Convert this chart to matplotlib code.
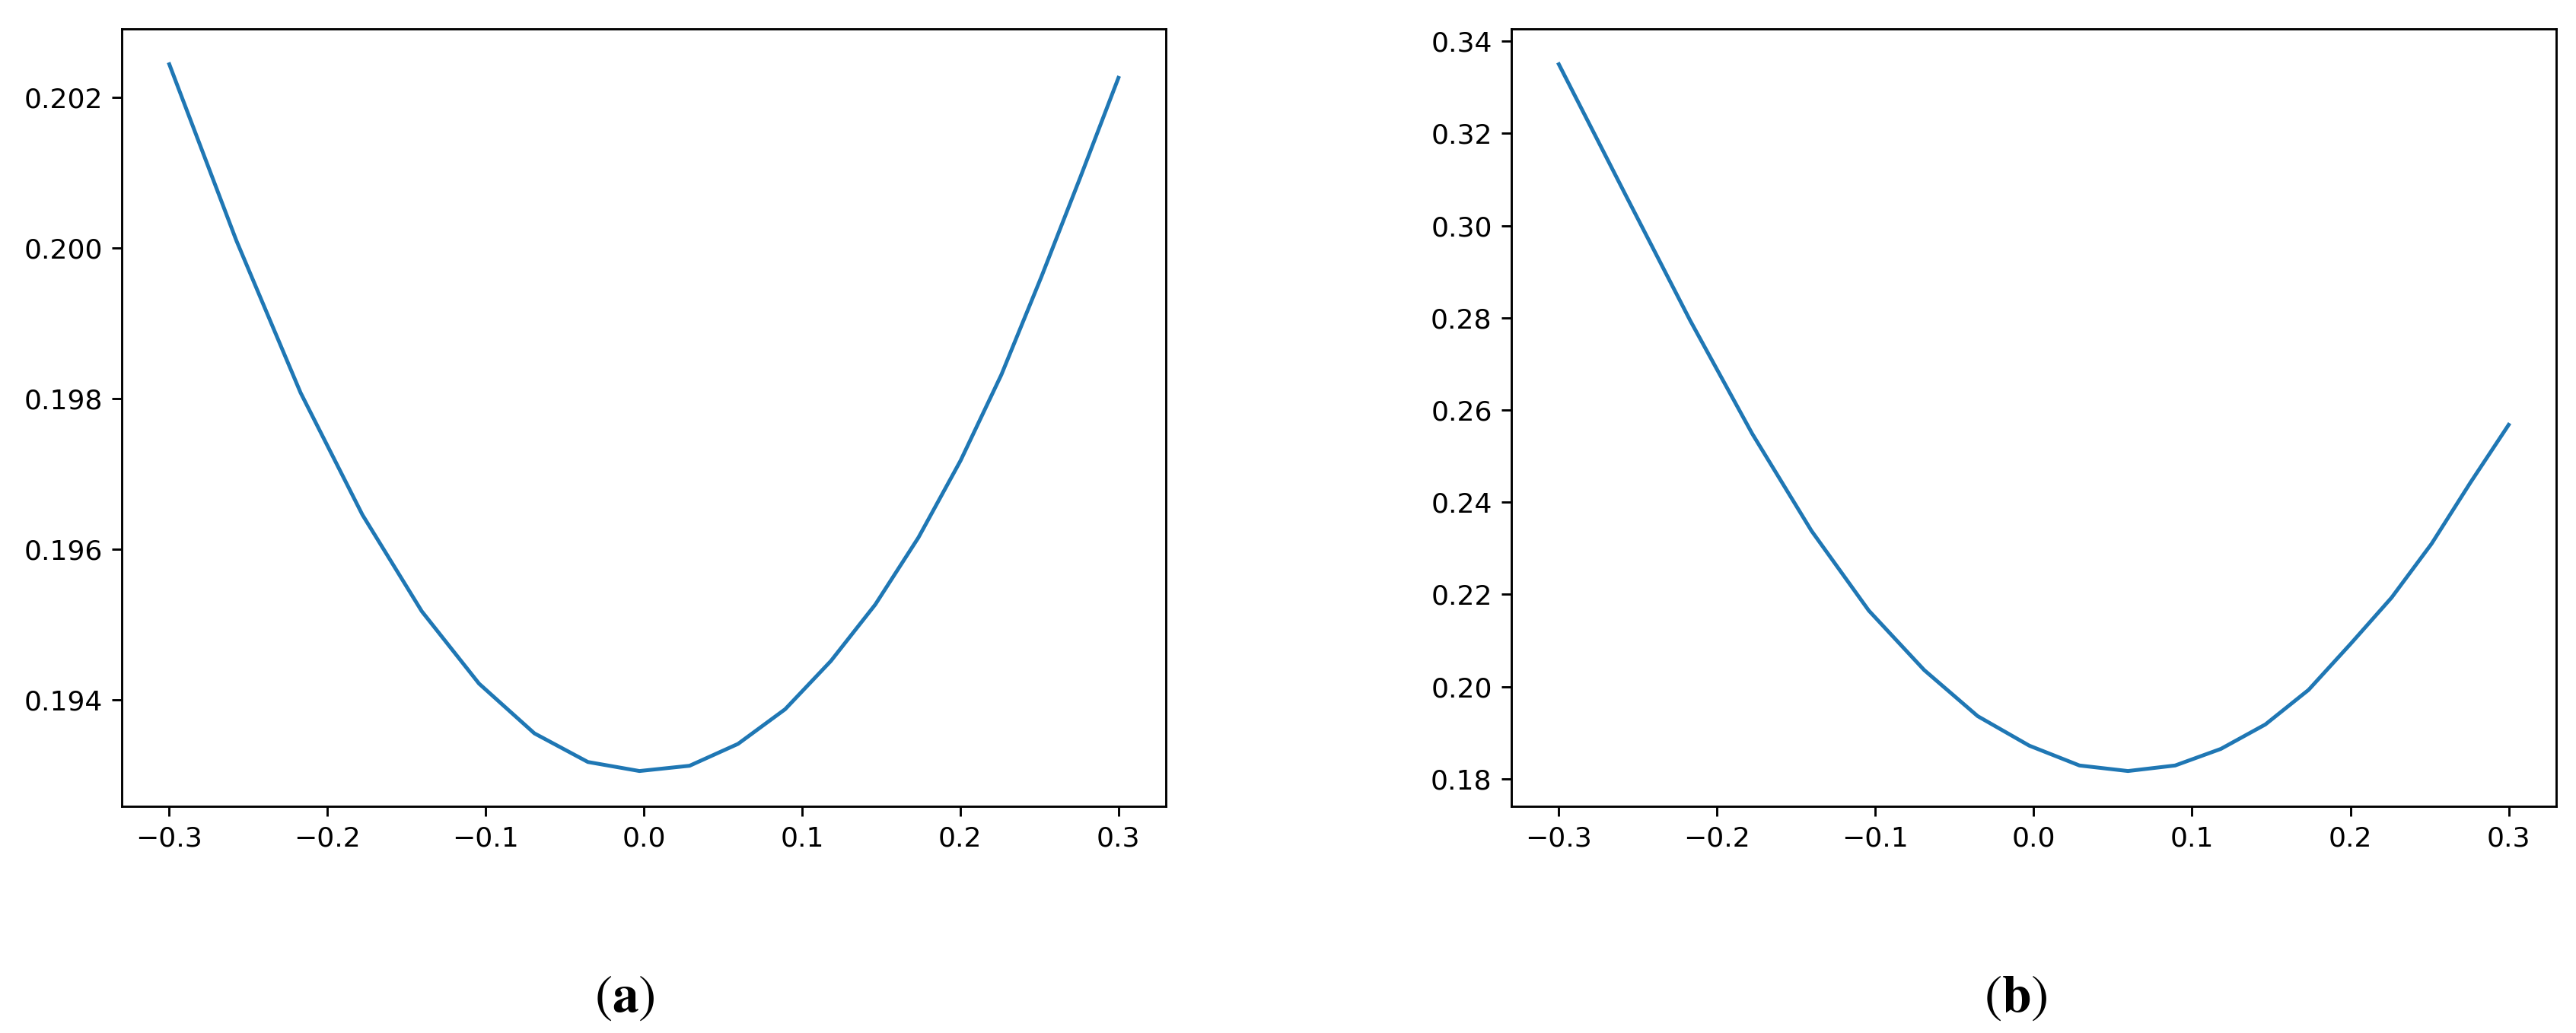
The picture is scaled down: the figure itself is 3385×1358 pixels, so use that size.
import matplotlib
matplotlib.use('Agg')
import matplotlib.pyplot as plt

# values
x_vals = [-0.300, -0.2576, -0.2170, -0.1779, -0.1404, -0.1042, -0.0692, -0.0354, -0.0028, 0.0289,
          0.0595, 0.0893, 0.1182, 0.1463, 0.1736, 0.2002, 0.2260, 0.2513, 0.2759, 0.300]

y_a = [0.20244, 0.20010, 0.19808, 0.19646, 0.19518, 0.19422, 0.19356, 0.19318, 0.19306, 0.19313,
       0.19342, 0.19388, 0.19452, 0.19527, 0.19616, 0.19718, 0.19832, 0.19962, 0.20094, 0.20226]

y_b = [0.3350, 0.3065, 0.2794, 0.2549, 0.2338, 0.2165, 0.2036, 0.1936, 0.1872, 0.1829,
       0.1817, 0.1829, 0.1865, 0.1918, 0.1993, 0.2093, 0.2193, 0.2310, 0.2443, 0.2568]

panel_labels = [r'$(\mathbf{a})$', r'$(\mathbf{b})$']

# scale factor so the default look matches the big output
s = 2.6
plt.rcParams.update({
    'font.size': 10 * s,
    'axes.linewidth': 0.8 * s,
    'xtick.major.size': 3.5 * s,
    'ytick.major.size': 3.5 * s,
    'xtick.major.width': 0.8 * s,
    'ytick.major.width': 0.8 * s,
    'xtick.major.pad': 3.5 * s,
    'ytick.major.pad': 3.5 * s,
    'mathtext.fontset': 'stix',
})

fig = plt.figure(figsize=(33.85, 13.58), dpi=100)
ax_a = fig.add_axes([0.0473, 0.2194, 0.4053, 0.7526])
ax_b = fig.add_axes([0.5867, 0.2194, 0.4056, 0.7526])

ax_a.plot(x_vals, y_a, color='#1f77b4', linewidth=3.6)
ax_b.plot(x_vals, y_b, color='#1f77b4', linewidth=3.6)

ax_a.set_yticks([0.194, 0.196, 0.198, 0.200, 0.202])
ax_b.set_yticks([0.18, 0.20, 0.22, 0.24, 0.26, 0.28, 0.30, 0.32, 0.34])
for ax in (ax_a, ax_b):
    ax.set_xticks([-0.3, -0.2, -0.1, 0.0, 0.1, 0.2, 0.3])

# sub-figure labels under each panel
fig.text(821 / 3385, 1 - 1310 / 1358, panel_labels[0], ha='center', va='center', fontsize=50)
fig.text(2649 / 3385, 1 - 1310 / 1358, panel_labels[1], ha='center', va='center', fontsize=50)

fig.savefig('out.png', dpi=100)
